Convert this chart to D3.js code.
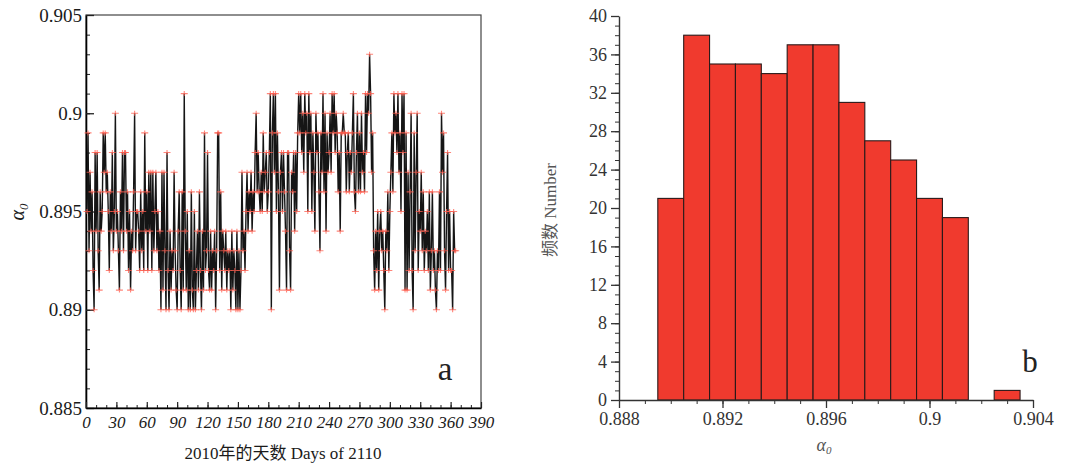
<!DOCTYPE html>
<html>
<head>
<meta charset="utf-8">
<script src="https://cdn.jsdelivr.net/npm/d3@7"></script>
<style>
  body { margin: 0; background: #fff; }
  text { font-family: "Liberation Serif", "Times New Roman", Tinos, "DejaVu Serif", "Noto Sans CJK SC", serif; }
</style>
</head>
<body>
<svg id="chart" width="1074" height="466"></svg>
<script>
// daily a0 for 2010, in thousandths (895 -> 0.895)
var a0_milli = [
  895,899,893,897,894,896,892,890,898,894,
  898,893,891,896,894,895,899,897,899,896,
  897,895,892,896,894,898,893,895,900,894,
  895,893,891,896,894,898,893,898,898,894,
  896,892,895,891,894,893,896,900,893,895,
  895,894,892,896,893,895,892,899,894,896,
  892,897,894,897,892,897,893,895,897,893,
  895,892,894,890,897,891,897,893,890,898,
  892,890,894,891,893,892,897,893,891,890,
  894,896,892,890,896,891,901,894,891,895,
  890,893,890,896,891,890,895,890,892,894,
  891,896,892,890,894,891,899,892,893,898,
  892,891,894,891,893,892,894,890,893,899,
  899,892,896,891,894,893,892,894,891,893,
  892,893,890,894,891,893,892,890,894,890,
  893,890,892,897,893,894,892,895,897,894,
  896,895,897,894,896,895,898,900,896,898,
  896,895,897,895,899,896,897,898,895,896,
  898,901,890,899,901,897,901,895,899,896,
  891,897,898,895,898,896,894,891,898,898,
  893,891,897,896,898,894,898,895,899,901,
  899,901,898,900,897,901,899,900,895,901,
  898,900,895,899,897,894,900,898,899,896,
  893,899,897,901,896,900,894,899,897,898,
  900,897,901,899,901,898,900,899,896,898,
  894,899,899,900,899,899,896,898,899,896,
  898,897,899,901,896,895,898,900,896,899,
  896,900,897,898,896,901,898,901,900,903,
  901,897,899,893,891,894,892,895,891,894,
  895,893,894,892,890,894,893,896,892,895,
  897,899,896,901,899,900,898,901,897,899,
  895,901,898,901,891,899,891,897,892,896,
  900,892,890,899,893,897,900,892,895,894,
  897,893,896,892,894,893,895,892,896,891,
  893,896,892,893,891,890,893,892,896,892,
  900,897,899,893,891,895,898,892,895,892,
  892,890,895,893,893
];
var a0_values = a0_milli.map(function(d) { return d / 1000; });

var left_x_ticks = [0, 30, 60, 90, 120, 150, 180, 210, 240, 270, 300, 330, 360, 390];
var left_y_ticks = [0.885, 0.89, 0.895, 0.9, 0.905];
var left_y_labels = ["0.885", "0.89", "0.895", "0.9", "0.905"];

// histogram of a0 (panel b)
var bin_centers = [0.890, 0.891, 0.892, 0.893, 0.894, 0.895, 0.896, 0.897, 0.898, 0.899, 0.900, 0.901, 0.903];
var bin_counts  = [21, 38, 35, 35, 34, 37, 37, 31, 27, 25, 21, 19, 1];
var right_x_ticks = [0.888, 0.892, 0.896, 0.9, 0.904];
var right_x_labels = ["0.888", "0.892", "0.896", "0.9", "0.904"];
var right_y_ticks = [0, 4, 8, 12, 16, 20, 24, 28, 32, 36, 40];

var serif = "'Liberation Serif', 'Times New Roman', Tinos, 'DejaVu Serif', serif";
var svg = d3.select("#chart");

// ---------- panel a ----------
var xL = d3.scaleLinear().domain([0, 390]).range([86, 481]);
var yL = d3.scaleLinear().domain([0.885, 0.905]).range([408, 15]);

var left = svg.append("g").attr("id", "panel_a");

left.append("rect")
   .attr("x", xL(0)).attr("y", yL(0.905))
   .attr("width", xL(390) - xL(0)).attr("height", yL(0.885) - yL(0.905))
   .attr("fill", "none").attr("stroke", "#444").attr("stroke-width", 1.2);

// minor ticks
left.append("g").attr("transform", "translate(" + xL(0) + ",0)")
   .call(d3.axisLeft(yL).tickValues(d3.range(885, 906).map(function(d) { return d / 1000; }))
      .tickSize(-4).tickFormat(""))
   .call(function(g) { g.select(".domain").remove(); g.selectAll("line").attr("stroke", "#222"); });
left.append("g").attr("transform", "translate(0," + yL(0.885) + ")")
   .call(d3.axisBottom(xL).tickValues(d3.range(0, 391, 10)).tickSize(-3).tickFormat(""))
   .call(function(g) { g.select(".domain").remove(); g.selectAll("line").attr("stroke", "#222"); });

// major ticks + labels
left.append("g").attr("transform", "translate(" + xL(0) + ",0)")
   .call(d3.axisLeft(yL).tickValues(left_y_ticks).tickSizeInner(-8).tickSizeOuter(0).tickPadding(4)
      .tickFormat(function(d, i) { return left_y_labels[i]; }))
   .call(function(g) {
      g.select(".domain").attr("stroke-width", 1.6);
      g.selectAll("line").attr("stroke", "#222").attr("stroke-width", 1.3);
      g.selectAll("text").attr("font-size", 19).attr("fill", "#1a1a1a").style("font-family", serif);
   });
left.append("g").attr("transform", "translate(0," + yL(0.885) + ")")
   .call(d3.axisBottom(xL).tickValues(left_x_ticks).tickSizeInner(-6).tickSizeOuter(0).tickPadding(8))
   .call(function(g) {
      g.select(".domain").attr("stroke-width", 1.6);
      g.selectAll("line").attr("stroke", "#222").attr("stroke-width", 1.2);
      g.selectAll("text").attr("font-size", 17).attr("font-style", "italic").attr("fill", "#1a1a1a")
         .style("font-family", serif);
   });

var a0_line = d3.line()
   .x(function(d, i) { return xL(i + 1); })
   .y(function(d) { return yL(d); });

left.append("path").datum(a0_values)
   .attr("d", a0_line)
   .attr("fill", "none").attr("stroke", "#151515").attr("stroke-width", 1.4);

left.append("g").selectAll("path.marker")
   .data(a0_values).enter().append("path").attr("class", "marker")
   .attr("d", function(d, i) {
      var cx = xL(i + 1), cy = yL(d);
      return "M" + (cx - 3.5) + "," + cy + "H" + (cx + 3.5) + "M" + cx + "," + (cy - 2.5) + "V" + (cy + 2.5);
   })
   .attr("stroke", "#ff5b4c").attr("stroke-width", 1.1).attr("stroke-opacity", 0.75);

left.append("text").attr("x", 283).attr("y", 459).attr("text-anchor", "middle")
   .attr("font-size", 17).attr("fill", "#1a1a1a")
   .text("2010年的天数 Days of 2110");

var yLab = left.append("text").attr("transform", "translate(24,212) rotate(-90)")
   .attr("text-anchor", "middle").attr("font-size", 20).attr("font-style", "italic").attr("fill", "#1a1a1a");
yLab.append("tspan").text("α");
yLab.append("tspan").attr("font-size", 13).attr("dy", 4).text("0");

left.append("text").attr("x", 445).attr("y", 380).attr("text-anchor", "middle")
   .attr("font-size", 33).attr("fill", "#222").text("a");

// ---------- panel b ----------
var xR = d3.scaleLinear().domain([0.888, 0.904]).range([619, 1033]);
var yR = d3.scaleLinear().domain([0, 40]).range([400, 16]);

var right = svg.append("g").attr("id", "panel_b");

right.append("g").selectAll("rect")
   .data(bin_centers).enter().append("rect")
   .attr("x", function(d) { return xR(d - 0.0005); })
   .attr("width", function(d) { return xR(d + 0.0005) - xR(d - 0.0005); })
   .attr("y", function(d, i) { return yR(bin_counts[i]); })
   .attr("height", function(d, i) { return yR(0) - yR(bin_counts[i]); })
   .attr("fill", "#f03a2e").attr("stroke", "#2a1a1a").attr("stroke-width", 1.1);

// minor ticks
right.append("g").attr("transform", "translate(" + xR(0.888) + ",0)")
   .call(d3.axisLeft(yR).tickValues(d3.range(0, 41, 1)).tickSize(4).tickFormat(""))
   .call(function(g) { g.select(".domain").remove(); g.selectAll("line").attr("stroke", "#333"); });
right.append("g").attr("transform", "translate(0," + yR(0) + ")")
   .call(d3.axisBottom(xR).tickValues(d3.range(888, 905, 1).map(function(d) { return d / 1000; }))
      .tickSize(4).tickFormat(""))
   .call(function(g) { g.select(".domain").remove(); g.selectAll("line").attr("stroke", "#333"); });

right.append("g").attr("transform", "translate(" + xR(0.888) + ",0)")
   .call(d3.axisLeft(yR).tickValues(right_y_ticks).tickSizeInner(8).tickSizeOuter(0).tickPadding(4))
   .call(function(g) {
      g.select(".domain").attr("stroke", "#333").attr("stroke-width", 1.4);
      g.selectAll("line").attr("stroke", "#333").attr("stroke-width", 1.3);
      g.selectAll("text").attr("font-size", 18).attr("fill", "#333").style("font-family", serif);
   });
right.append("g").attr("transform", "translate(0," + yR(0) + ")")
   .call(d3.axisBottom(xR).tickValues(right_x_ticks).tickSizeInner(8).tickSizeOuter(0).tickPadding(4)
      .tickFormat(function(d, i) { return right_x_labels[i]; }))
   .call(function(g) {
      g.select(".domain").attr("stroke", "#333").attr("stroke-width", 1.4);
      g.selectAll("line").attr("stroke", "#333").attr("stroke-width", 1.3);
      g.selectAll("text").attr("font-size", 18).attr("fill", "#333").style("font-family", serif);
   });

right.append("text").attr("transform", "translate(556,210) rotate(-90)")
   .attr("text-anchor", "middle").attr("font-size", 17).attr("fill", "#555")
   .text("频数 Number");

var xLab = right.append("text").attr("x", 824).attr("y", 451).attr("text-anchor", "middle")
   .attr("font-size", 18).attr("font-style", "italic").attr("fill", "#555");
xLab.append("tspan").text("α");
xLab.append("tspan").attr("font-size", 11).attr("dy", 3).text("0");

right.append("text").attr("x", 1030).attr("y", 372).attr("text-anchor", "middle")
   .attr("font-size", 31).attr("fill", "#222").text("b");
</script>
</body>
</html>
